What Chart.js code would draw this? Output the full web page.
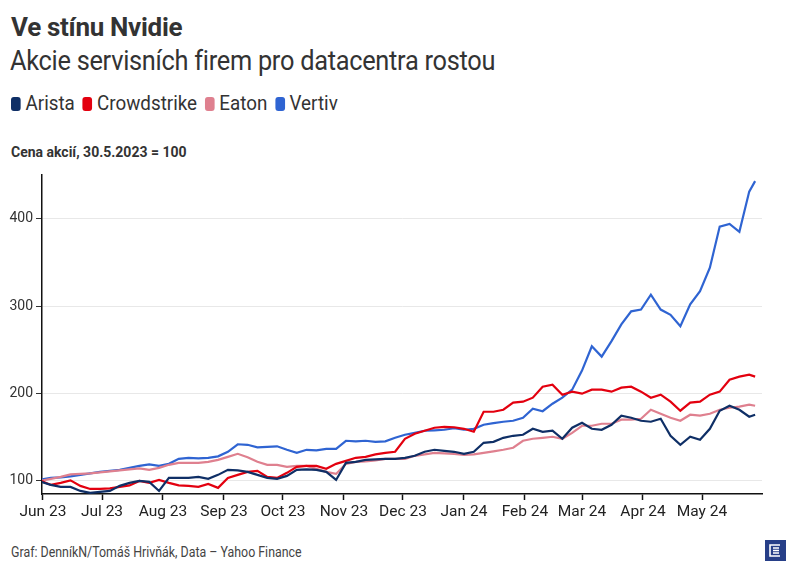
<!DOCTYPE html>
<html lang="cs">
<head>
<meta charset="utf-8">
<script src="https://cdn.jsdelivr.net/npm/chart.js@4.4.1/dist/chart.umd.min.js"></script>
<style>
  html, body { margin: 0; padding: 0; background: #fff; }
  body { width: 796px; height: 575px; position: relative; overflow: hidden; font-family: Roboto, sans-serif; color: #333; }
  .title { position: absolute; left: 11px; top: 14px; font-size: 26px; font-weight: 700; line-height: 1; letter-spacing: -0.3px; }
  .subtitle { position: absolute; left: 10px; top: 47px; font-size: 28px; font-weight: 400; line-height: 1; letter-spacing: -0.3px; transform: scaleX(0.905); transform-origin: left top; white-space: nowrap; }
  .legend { position: absolute; left: 11px; top: 94px; font-size: 19.5px; line-height: 20px; display: flex; transform: scaleX(0.965); transform-origin: left top; white-space: nowrap; }
  .legend span { display: inline-flex; align-items: center; margin-right: 8px; }
  .legend i { display: inline-block; width: 10px; height: 14px; border-radius: 3px; margin-right: 5px; }
  .unit { position: absolute; left: 11px; top: 145px; font-size: 14px; font-weight: 700; line-height: 1; }
  .footer { position: absolute; left: 11px; top: 545px; font-size: 14px; line-height: 1; color: #444; transform: scaleX(0.885); transform-origin: left top; white-space: nowrap; }
  .logo { position: absolute; left: 765px; top: 540px; width: 21px; height: 21px; background: #273f88; }
  #wrap { position: absolute; left: 0; top: 160px; width: 796px; height: 372px; }
</style>
</head>
<body>
<div class="title">Ve stínu Nvidie</div>
<div class="subtitle">Akcie servisních firem pro datacentra rostou</div>
<div class="legend" id="legend"></div>
<div class="unit">Cena akcií, 30.5.2023 = 100</div>
<div class="footer">Graf: DenníkN/Tomáš Hrivňák, Data – Yahoo Finance</div>
<div class="logo">
  <svg width="21" height="21" viewBox="0 0 21 21">
    <path d="M15 5 H5 V16 H15" fill="none" stroke="#fff" stroke-width="1.6"/>
    <path d="M8 8 H14 M8 10.5 H14 M8 13 H14" stroke="#fff" stroke-width="1.4"/>
  </svg>
</div>
<div id="wrap"><canvas id="chart"></canvas></div>

<script>
// dates of the sampled points (about every 5 days)
const dates = [
  '2023-05-31', '2023-06-05', '2023-06-10', '2023-06-15', '2023-06-20', '2023-06-25', '2023-06-30',
  '2023-07-05', '2023-07-10', '2023-07-15', '2023-07-20', '2023-07-25', '2023-07-30',
  '2023-08-04', '2023-08-09', '2023-08-14', '2023-08-19', '2023-08-24', '2023-08-29',
  '2023-09-03', '2023-09-08', '2023-09-13', '2023-09-18', '2023-09-23', '2023-09-28',
  '2023-10-03', '2023-10-08', '2023-10-13', '2023-10-18', '2023-10-23', '2023-10-28',
  '2023-11-02', '2023-11-07', '2023-11-12', '2023-11-17', '2023-11-22', '2023-11-27',
  '2023-12-02', '2023-12-07', '2023-12-12', '2023-12-17', '2023-12-22', '2023-12-27',
  '2024-01-01', '2024-01-06', '2024-01-11', '2024-01-16', '2024-01-21', '2024-01-26', '2024-01-31',
  '2024-02-05', '2024-02-10', '2024-02-15', '2024-02-20', '2024-02-25',
  '2024-03-01', '2024-03-06', '2024-03-11', '2024-03-16', '2024-03-21', '2024-03-26', '2024-03-31',
  '2024-04-05', '2024-04-10', '2024-04-15', '2024-04-20', '2024-04-25', '2024-04-30',
  '2024-05-05', '2024-05-10', '2024-05-15', '2024-05-20', '2024-05-25', '2024-05-28'
];

const arista = [
  98.9, 95.4, 93.1, 93.1, 88.5, 86.2, 87.4,
  88.5, 94.3, 97.7, 100, 98.9, 88.5,
  103.4, 103.4, 103.4, 104.6, 102.3, 106.9,
  112.6, 112, 110.3, 106.9, 103.4, 102.3,
  105.7, 112.6, 113.2, 112.6, 110.3, 101.1,
  120.6, 121.8, 124.1, 124.7, 125.2, 125.2,
  126.4, 128.7, 133.3, 135.6, 134.4, 133.3,
  131, 133.3, 143.6, 144.7, 149.3, 151.6, 152.8,
  159.6, 156.2, 157.4, 148.2, 160.8,
  166.5, 159.6, 158.5, 164.2, 174.6, 172.3, 168.8,
  167.7, 171.1, 151.6, 141.3, 150.5, 147,
  159.6, 180.3, 186, 181.4, 173.4, 175.7
];

const crowdstrike = [
  100, 95.4, 97.7, 100.6, 94.3, 90.8, 90.8,
  91.4, 93.1, 94.8, 100, 97.7, 101.1,
  97.7, 94.8, 94.3, 93.1, 96.6, 92,
  103.4, 106.9, 110.3, 111.5, 104.6, 103.4,
  109.2, 116.1, 117.2, 117.2, 113.8, 119.5,
  122.9, 126.4, 127.5, 130.4, 132.1, 133.3,
  148.2, 153.9, 157.4, 160.8, 161.9, 161.4,
  159.6, 156.2, 179.1, 179.1, 181.4, 189.5, 190.6,
  195.2, 207.8, 210.1, 198.6, 202.1,
  199.8, 204.4, 204.4, 202.1, 206.7, 207.8, 202.1,
  195.2, 198.6, 190.6, 180.3, 189.5, 190.6,
  198.6, 202.1, 215.8, 219.3, 221.6, 219.3
];

const eaton = [
  100, 102.3, 104.6, 107.5, 108, 108.6, 109.7,
  110.9, 112, 113.2, 114.3, 112.6, 114.9,
  118.4, 120.6, 120.6, 120.6, 121.8, 124.1,
  127.5, 131, 127, 121.8, 118.4, 118.4,
  116.1, 117.2, 117.2, 113.8, 110.3, 108,
  119.5, 121.8, 122.4, 123.5, 125.2, 125.2,
  125.2, 128.7, 130.4, 132.1, 131.5, 131,
  129.8, 130.4, 132.1, 133.8, 135.6, 137.9, 145.9,
  148.2, 149.3, 150.5, 148.2, 155,
  163.1, 163.1, 165.4, 165.4, 170, 170, 171.1,
  181.4, 176.8, 172.3, 168.8, 175.7, 174.6,
  176.8, 181.4, 183.7, 184.9, 187.2, 186
];

const vertiv = [
  101.7, 103.4, 104, 105.2, 106.9, 108.6, 110.3,
  111.5, 112.6, 114.9, 117.2, 118.9, 117.2,
  119.5, 125.2, 126.4, 125.8, 126.4, 128.1,
  133.3, 141.9, 141.3, 138.4, 139, 139.6,
  135.6, 132.1, 135.6, 135, 136.7, 136.7,
  145.9, 145.3, 145.9, 144.7, 145.3, 149.3,
  152.8, 155, 157.4, 157.9, 158.5, 160.2,
  158.5, 159.6, 164.2, 166, 167.7, 168.8, 172.3,
  182.6, 179.7, 188.3, 195.2, 204.4,
  226.2, 254, 242.2, 260, 279, 294, 296,
  313, 296, 290, 277, 302, 317,
  344, 391, 394, 385, 431, 443
];

const seriesNames = ['Arista', 'Crowdstrike', 'Eaton', 'Vertiv'];
const seriesColors = ['#0f2f66', '#e3000f', '#df808f', '#2f64d2'];
const seriesValues = [arista, crowdstrike, eaton, vertiv];

const monthTicks = ['2023-06-01', '2023-07-01', '2023-08-01', '2023-09-01', '2023-10-01', '2023-11-01',
  '2023-12-01', '2024-01-01', '2024-02-01', '2024-03-01', '2024-04-01', '2024-05-01'];
const monthLabels = ['Jun 23', 'Jul 23', 'Aug 23', 'Sep 23', 'Oct 23', 'Nov 23',
  'Dec 23', 'Jan 24', 'Feb 24', 'Mar 24', 'Apr 24', 'May 24'];
const yTicks = [100, 200, 300, 400];

// days since 1 Jun 2023
const base = Date.UTC(2023, 5, 1);
function dayNum(s) {
  const [y, m, d] = s.split('-').map(Number);
  return (Date.UTC(y, m - 1, d) - base) / 86400000;
}
const xs = dates.map(dayNum);
const tickDays = monthTicks.map(dayNum);

document.getElementById('legend').innerHTML = seriesNames
  .map((n, i) => `<span><i style="background:${seriesColors[i]}"></i>${n}</span>`).join('');

new Chart(document.getElementById('chart'), {
  type: 'line',
  data: {
    datasets: seriesNames.map((name, i) => ({
      label: name,
      data: xs.map((x, j) => ({ x, y: seriesValues[i][j] })),
      borderColor: seriesColors[i],
      borderWidth: 2.2,
      pointRadius: 0,
      tension: 0,
      fill: false,
    })),
  },
  options: {
    responsive: true,
    maintainAspectRatio: false,
    animation: false,
    layout: { padding: { top: 15, right: 34, left: 0, bottom: 0 } },
    plugins: { legend: { display: false }, tooltip: { enabled: false } },
    scales: {
      x: {
        type: 'linear',
        min: -0.5,
        max: 365.5,
        afterBuildTicks: (ax) => { ax.ticks = tickDays.map(v => ({ value: v })); },
        afterFit: (ax) => { ax.height = 38; },
        grid: { display: true, drawOnChartArea: false, drawTicks: true, tickLength: 6, tickColor: '#111', tickWidth: 1.5 },
        border: { display: true, color: '#111', width: 1.5 },
        ticks: {
          autoSkip: false,
          maxRotation: 0,
          padding: 3,
          color: '#222',
          font: { family: 'Roboto', size: 15.5 },
          callback: (v) => monthLabels[tickDays.indexOf(v)] || '',
        },
      },
      y: {
        min: 85,
        max: 450,
        afterBuildTicks: (ax) => { ax.ticks = yTicks.map(v => ({ value: v })); },
        afterFit: (ax) => { ax.width = 42; },
        grid: { color: '#e8e8e8', lineWidth: 1, tickLength: 6, tickColor: '#333', drawTicks: true },
        border: { display: true, color: '#111', width: 1.5 },
        ticks: { padding: 3, color: '#333', font: { family: 'Roboto', size: 14 } },
      },
    },
  },
});
</script>
</body>
</html>
